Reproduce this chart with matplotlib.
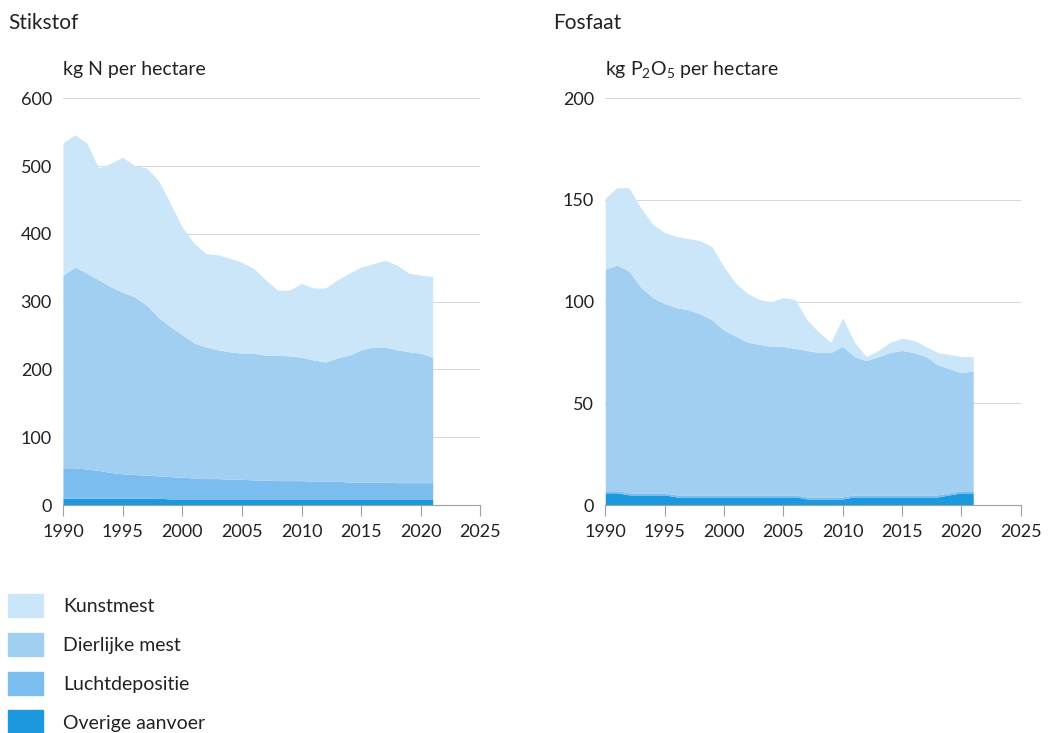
import matplotlib
matplotlib.use('Agg')
import matplotlib.pyplot as plt
import matplotlib.patches as mpatches
import numpy as np

plt.rcParams['font.family'] = ['Lato', 'DejaVu Sans']
plt.rcParams['mathtext.fontset'] = 'custom'
plt.rcParams['mathtext.rm'] = 'Lato'

years = np.arange(1990, 2022)

# Stikstof, kg N per hectare
n_kunstmest = [195, 195, 192, 165, 182, 199, 194, 202, 202, 182, 159, 147, 138, 140, 138, 134,
               125, 111, 96, 97, 109, 106, 109, 115, 121, 122, 123, 128, 125, 116, 115, 119]
n_dierlijk = [284, 296, 289, 281, 274, 268, 262, 251, 234, 221, 210, 199, 194, 190, 188, 186,
              187, 184, 185, 184, 182, 179, 176, 182, 187, 195, 199, 199, 196, 193, 191, 185]
n_lucht = [45, 45, 43, 41, 38, 36, 35, 34, 33, 33, 32, 31, 30, 30, 29, 29,
           28, 28, 27, 27, 27, 26, 26, 26, 25, 25, 25, 25, 24, 24, 24, 24]
n_overig = [10, 10, 10, 10, 10, 10, 10, 10, 10, 9, 9, 9, 9, 9, 9, 9,
            9, 9, 9, 9, 9, 9, 9, 9, 9, 9, 9, 9, 9, 9, 9, 9]

# Fosfaat, kg P2O5 per hectare
p_kunstmest = [35, 38, 41, 39, 36, 35, 35, 35, 36, 36, 31, 26, 24, 22, 22, 24,
               24, 15, 10, 5, 14, 7, 2, 3, 5, 6, 6, 5, 6, 7, 8, 7]
p_dierlijk = [109, 111, 109, 101, 96, 93, 92, 91, 89, 86, 81, 78, 75, 74, 73, 73,
              72, 72, 71, 71, 74, 68, 66, 68, 70, 71, 70, 68, 64, 61, 58, 59]
p_lucht = [1] * 32
p_overig = [6, 6, 5, 5, 5, 5, 4, 4, 4, 4, 4, 4, 4, 4, 4, 4,
            4, 3, 3, 3, 3, 4, 4, 4, 4, 4, 4, 4, 4, 5, 6, 6]

labels = ['Kunstmest', 'Dierlijke mest', 'Luchtdepositie', 'Overige aanvoer']
colors = ['#cbe6f9', '#a0cff2', '#7bbdee', '#1b98de']

fig = plt.figure(figsize=(10.49, 7.33), dpi=100)
ax1 = fig.add_axes([0.060, 0.311, 0.398, 0.555])
ax2 = fig.add_axes([0.577, 0.311, 0.396, 0.555])


def draw(ax, series, ymax, ystep, unit):
    # stacked from bottom: overig, lucht, dierlijk, kunstmest
    base = np.zeros(len(years))
    for vals, col in zip(series, colors[::-1]):
        top = base + np.array(vals)
        ax.fill_between(years, base, top, color=col, linewidth=0, zorder=2)
        base = top
    ax.set_xlim(1990, 2025)
    ax.set_ylim(0, ymax)
    ax.set_xticks(np.arange(1990, 2026, 5))
    ax.set_yticks(np.arange(0, ymax + 1, ystep))
    ax.grid(axis='y', color='#d6d6d6', linewidth=0.7, zorder=1)
    for s in ['top', 'right', 'left']:
        ax.spines[s].set_visible(False)
    ax.spines['bottom'].set_color('#a0a0a0')
    ax.spines['bottom'].set_linewidth(0.8)
    ax.tick_params(axis='x', direction='out', length=8, width=0.8, color='#a0a0a0',
                   labelsize=13, pad=6, labelcolor='#222222')
    ax.tick_params(axis='y', length=0, labelsize=13, pad=8, labelcolor='#222222')
    ax.text(0.0, 1.056, unit, transform=ax.transAxes, fontsize=14, color='#222222',
            va='baseline')


draw(ax1, [n_overig, n_lucht, n_dierlijk, n_kunstmest], 600, 100, 'kg N per hectare')
draw(ax2, [p_overig, p_lucht, p_dierlijk, p_kunstmest], 200, 50, r'kg P$_2$O$_5$ per hectare')

fig.text(0.008, 0.968, 'Stikstof', fontsize=15, color='#222222', va='center')
fig.text(0.527, 0.968, 'Fosfaat', fontsize=15, color='#222222', va='center')

handles = [mpatches.Patch(color=c, label=l) for c, l in zip(colors, labels)]
fig.legend(handles=handles, loc='upper left', bbox_to_anchor=(0.008, 0.19), frameon=False,
           fontsize=14, handlelength=1.8, handleheight=1.5, labelspacing=0.78,
           handletextpad=1.0, borderpad=0, borderaxespad=0, labelcolor='#222222')

fig.savefig('out.png', dpi=100)
